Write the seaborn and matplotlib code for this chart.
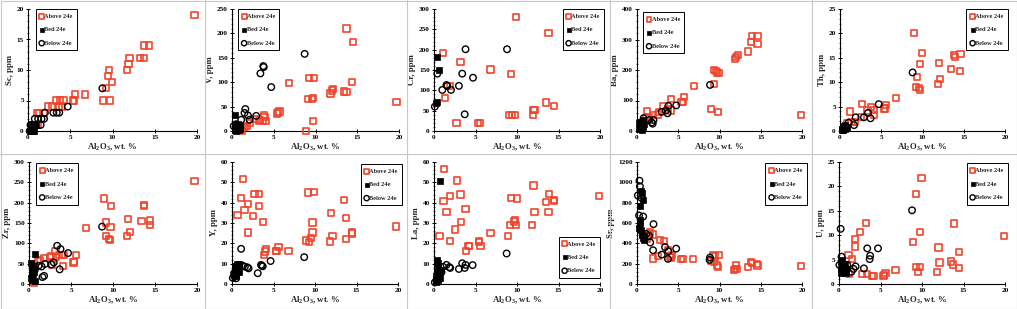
import numpy as np
import pandas as pd
import seaborn as sns
from matplotlib import pyplot as plt
from matplotlib.ticker import MultipleLocator, AutoMinorLocator
from matplotlib.lines import Line2D

#%% data: (Al2O3 wt.%, element ppm)
sc_above = [(0.6, 1), (1.1, 3), (1.3, 3), (1.9, 3), (1.2, 1), (2.4, 4), (2.8, 4), (3.3, 5), (3.7, 4), (3.8, 5),
            (4.0, 4), (4.2, 5), (5.3, 5), (5.4, 5), (5.6, 6), (6.7, 6), (8.9, 5), (9.2, 7), (9.5, 9), (9.6, 10),
            (9.7, 5), (9.9, 8), (11.7, 10), (11.9, 11), (12.0, 12), (13.3, 12), (13.7, 12), (13.7, 14), (14.3, 14),
            (19.7, 19)]
sc_bed = [(0.2, 0), (0.3, 0), (0.4, 0), (0.5, 0), (0.6, 0), (0.7, 0), (0.6, 1), (0.7, 1), (0.8, 1), (0.9, 1)]
sc_below = [(0.2, 0), (0.3, 1), (0.5, 1), (0.8, 2), (1.2, 2), (1.6, 2), (1.9, 2), (1.5, 1), (2.0, 3), (3.0, 3),
            (3.4, 3), (3.7, 3), (4.7, 4), (8.8, 7)]

v_above = [(13.7, 210), (14.5, 183), (14.4, 101), (19.7, 60), (6.8, 99), (9.2, 109), (9.8, 109), (9.1, 65),
           (9.6, 66), (9.7, 68), (9.7, 21), (8.9, 0), (11.8, 77), (12.0, 83), (12.1, 86), (13.4, 81), (13.7, 80),
           (5.4, 36), (5.5, 38), (5.7, 40), (3.8, 33), (3.9, 29), (4.1, 21), (3.7, 21), (3.2, 21), (3.4, 23),
           (2.7, 25), (2.2, 16), (1.8, 10), (1.5, 8), (1.2, 0), (1.3, 9)]
v_bed = [(0.4, 33), (0.3, 2), (0.4, 5), (0.5, 8), (0.6, 12), (0.7, 15), (0.8, 10), (0.9, 5), (0.5, 0), (0.8, 3),
         (1.0, 12)]
v_below = [(8.7, 158), (3.75, 133), (3.8, 131), (3.4, 118), (4.7, 90), (1.6, 45), (1.5, 37), (1.9, 32), (2.1, 23),
           (1.1, 23), (2.9, 31), (0.2, 10), (0.5, 14)]

cr_above = [(9.9, 281), (13.8, 241), (1.1, 191), (3.2, 170), (6.8, 151), (9.3, 141), (1.9, 111), (1.3, 81),
            (13.5, 70), (14.5, 61), (12.0, 51), (12.1, 51), (11.9, 40), (9.0, 40), (9.4, 40), (9.8, 40),
            (2.7, 20), (5.3, 20), (5.5, 20)]
cr_bed = [(0.4, 181), (0.6, 151), (0.25, 70), (0.35, 72)]
cr_below = [(8.8, 201), (3.8, 201), (0.4, 141), (3.4, 141), (4.7, 131), (3.0, 111), (1.6, 111), (1.5, 113),
            (2.05, 101), (1.0, 101), (3.7, 41), (0.1, 60)]

ba_above = [(13.9, 312), (14.6, 312), (13.8, 291), (14.6, 284), (13.5, 261), (12.2, 250), (12.0, 243),
            (11.9, 235), (9.3, 200), (9.7, 192), (9.9, 190), (9.6, 196), (9.3, 155), (9.0, 72), (9.8, 62),
            (19.9, 53), (6.9, 148), (5.7, 112), (5.4, 95), (5.55, 96), (4.15, 104), (4.15, 67), (3.2, 82),
            (3.8, 72), (2.7, 62), (1.2, 66), (1.9, 53), (1.5, 47), (2.5, 54), (1.1, 42)]
ba_bed = [(0.3, 5), (0.4, 12), (0.5, 20), (0.6, 28), (0.7, 35), (0.8, 22), (0.3, 25), (0.5, 8), (0.7, 14),
          (0.4, 30), (0.6, 2)]
ba_below = [(8.85, 151), (4.75, 84), (3.8, 82), (3.7, 58), (3.5, 67), (3.0, 63), (2.0, 36), (1.9, 24), (1.8, 28),
            (1.5, 36), (0.8, 42)]

th_above = [(8.95, 20.1), (9.9, 16), (14.6, 15.8), (13.8, 15.5), (13.9, 15.1), (9.7, 13.8), (12.0, 14),
            (13.5, 12.7), (14.5, 12.3), (9.3, 11.1), (12.1, 10.7), (11.85, 9.7), (9.2, 9.0), (9.55, 8.8),
            (9.7, 8.4), (6.8, 6.7), (5.6, 5.4), (5.3, 4.6), (5.5, 4.6), (2.7, 5.5), (1.2, 4.0), (4.1, 4.3),
            (3.75, 4.9), (3.3, 4.2), (2.5, 2.9), (4.1, 3.3), (1.85, 1.8), (1.4, 1.8), (0.9, 1.6)]
th_bed = [(0.2, 0.2), (0.3, 0.5), (0.4, 0.8), (0.5, 1.0), (0.6, 1.2), (0.7, 0.9), (0.8, 0.6), (0.4, 0.3),
          (0.6, 0.5)]
th_below = [(8.8, 12), (4.7, 5.5), (3.4, 3.7), (3.7, 2.6), (2.9, 2.8), (1.9, 2.8), (1.7, 1.2), (1.05, 1.7)]

zr_above = [(19.7, 254), (8.9, 210), (9.8, 192), (13.7, 195), (13.7, 192), (11.8, 160), (13.4, 155),
            (14.4, 156), (14.4, 146), (9.2, 151), (9.7, 141), (6.8, 137), (12.0, 127), (11.7, 119), (9.2, 119),
            (9.5, 110), (9.6, 108), (5.6, 72), (5.35, 55), (5.3, 53), (3.9, 71), (3.6, 72), (4.1, 71.5),
            (4.05, 44), (3.15, 82), (3.2, 66), (2.5, 66), (2.6, 69), (2.7, 48), (1.8, 64), (1.3, 59), (1.1, 57),
            (0.6, 2)]
zr_bed = [(0.7, 73), (0.2, 52), (0.3, 45), (0.4, 40), (0.5, 35), (0.6, 30), (0.3, 20), (0.4, 10), (0.7, 8),
          (0.5, 25), (0.2, 15), (0.6, 45)]
zr_below = [(8.7, 141), (3.35, 94), (3.75, 86), (4.65, 76), (2.95, 53), (3.65, 36), (2.65, 48), (1.9, 49),
            (1.5, 43), (1.6, 17), (1.8, 20), (1.15, 45), (0.7, 35)]

y_above = [(1.3, 51.5), (1.1, 42.2), (0.65, 33.9), (1.5, 36.3), (1.9, 39.3), (1.9, 25.3), (2.7, 44.2),
           (3.25, 44.2), (2.5, 33.4), (3.3, 38.5), (3.7, 30.4), (3.85, 14.1), (4.1, 17.3), (4.0, 16),
           (5.35, 16.1), (5.3, 16.4), (5.6, 18.2), (6.8, 16.3), (8.9, 21.4), (9.25, 20.7), (9.2, 45), (9.9, 45.4),
           (9.7, 30.2), (9.7, 25.3), (9.5, 22.7), (11.8, 20.9), (11.9, 34.9), (12.1, 23.5), (13.45, 41.3),
           (13.7, 32.4), (13.7, 22.2), (14.45, 25.3), (14.5, 24.8), (19.8, 28.3)]
y_bed = [(0.3, 5), (0.4, 7), (0.5, 9), (0.6, 10), (0.7, 8), (0.8, 6), (0.9, 10), (0.5, 4), (0.6, 6), (0.4, 9),
         (0.8, 9)]
y_below = [(1.1, 17.3), (8.7, 13.2), (4.65, 11.3), (3.5, 9.4), (3.6, 9.0), (3.7, 8.7), (3.1, 5.3), (2.0, 7.7),
           (1.85, 8.2), (1.55, 8.5), (1.3, 9), (0.3, 3.6), (0.1, 3.0), (0.5, 2.8), (0.25, 5.3)]

la_above = [(1.25, 56.7), (2.75, 50.9), (1.15, 40.7), (1.95, 43.3), (3.2, 44), (1.5, 35.4), (3.8, 36.7),
            (0.65, 23.8), (1.9, 21.2), (2.55, 26.8), (3.3, 30.4), (3.85, 16.4), (4.15, 18.8), (4.2, 18.5),
            (5.4, 21.2), (5.45, 20.7), (5.6, 18.7), (6.8, 25.1), (8.95, 23.5), (9.3, 42.3), (10.0, 42.1),
            (9.2, 28.9), (9.75, 31.6), (9.6, 30.7), (9.85, 29.1), (12.0, 48.4), (12.1, 35.5), (11.85, 28.9),
            (13.45, 40.5), (13.85, 44.3), (13.8, 35.4), (14.5, 41.5), (14.5, 40.7), (19.9, 43.3)]
la_bed = [(0.75, 50.7), (0.4, 11.6), (0.45, 10.2), (0.2, 2), (0.3, 4), (0.4, 6), (0.5, 8), (0.6, 5), (0.7, 3),
          (0.8, 7), (0.3, 1), (0.5, 2)]
la_below = [(8.75, 15), (3.4, 10.2), (4.65, 9.3), (3.8, 9.4), (3.7, 7.9), (3.0, 7.4), (1.95, 7.9), (1.85, 8.3),
            (1.5, 9.4), (1.1, 8.4), (0.9, 5.8), (0.3, 1.7), (0.1, 0.8)]

sr_above = [(19.9, 174), (9.25, 289), (9.95, 283), (9.5, 270), (9.0, 230), (9.35, 220), (9.65, 181),
            (9.8, 171), (12.0, 181), (11.85, 148), (12.15, 145), (11.75, 138), (13.5, 168), (13.8, 220),
            (13.9, 210), (14.5, 197), (14.6, 181), (6.8, 243), (5.6, 243), (5.35, 243), (4.15, 260), (4.25, 283),
            (4.0, 270), (3.8, 335), (3.25, 424), (2.75, 431), (2.5, 276), (1.9, 250), (1.95, 487), (1.55, 506),
            (1.45, 473), (1.15, 440), (0.75, 487), (1.3, 493)]
sr_bed = [(0.5, 917), (0.6, 898), (0.7, 828), (0.35, 769), (0.35, 625), (0.3, 549), (0.45, 532), (0.65, 483),
          (0.7, 450), (0.8, 434), (0.9, 467), (0.4, 600)]
sr_below = [(0.3, 1016), (0.35, 960), (0.1, 871), (0.55, 845), (0.25, 674), (0.75, 664), (2.0, 589), (1.95, 332),
            (1.6, 408), (1.45, 473), (1.1, 493), (3.4, 362), (3.8, 322), (4.75, 348), (3.75, 247), (3.0, 289),
            (8.85, 260), (8.8, 237)]

u_above = [(9.95, 21.8), (9.25, 18.5), (8.95, 8.6), (9.8, 10.6), (9.25, 3.5), (9.75, 3.5), (9.55, 2.5),
           (13.85, 12.4), (19.9, 9.9), (12.0, 7.5), (14.5, 6.5), (12.1, 4.4), (13.45, 4.6), (13.7, 4.0),
           (14.5, 3.3), (11.85, 2.5), (3.25, 12.5), (2.5, 10.7), (1.95, 9.2), (1.9, 7.7), (1.15, 5.9), (1.55, 5.2),
           (6.8, 2.9), (5.6, 2.2), (5.35, 1.6), (5.45, 1.8), (4.15, 1.6), (4.0, 1.6), (3.35, 2.0), (2.75, 2.1),
           (1.2, 2.0)]
u_bed = [(0.2, 3.0), (0.3, 4.5), (0.4, 5.0), (0.5, 3.5), (0.6, 2.5), (0.7, 4.0), (0.8, 2.2), (0.9, 3.0),
         (0.3, 2.2), (0.5, 4.2), (0.7, 2.8)]
u_below = [(0.2, 11.3), (8.8, 15.1), (3.4, 7.3), (4.7, 7.3), (3.75, 5.8), (3.7, 5.1), (2.0, 3.6), (1.75, 3.1),
           (1.5, 2.5), (3.0, 3.2), (1.0, 3.9), (0.3, 5.6), (0.05, 3.9)]

elements = ["Sc", "V", "Cr", "Ba", "Th", "Zr", "Y", "La", "Sr", "U"]
ymax = [20, 250, 300, 400, 25, 300, 60, 60, 1200, 25]
ystep = [5, 50, 50, 100, 5, 50, 10, 10, 200, 5]
groups = ["Above 24e", "Bed 24e", "Below 24e"]
panel_data = [
    (sc_above, sc_bed, sc_below), (v_above, v_bed, v_below), (cr_above, cr_bed, cr_below),
    (ba_above, ba_bed, ba_below), (th_above, th_bed, th_below), (zr_above, zr_bed, zr_below),
    (y_above, y_bed, y_below), (la_above, la_bed, la_below), (sr_above, sr_bed, sr_below),
    (u_above, u_bed, u_below),
]

#%% styling
RED = "#f0452d"
style_by_group = {
    "Above 24e": dict(marker="s", facecolors="none", edgecolor=RED, linewidth=1.2, s=20),
    "Bed 24e": dict(marker="s", facecolors="black", edgecolor="black", linewidth=0.5, s=20),
    "Below 24e": dict(marker="o", facecolors="none", edgecolor="black", linewidth=1.0, s=22),
}
# legend location and anchor (axes coords) for each panel
legend_pos = [
    ("upper left", (0.045, 1.0)), ("upper left", (0.036, 1.0)), ("upper right", (1.024, 1.0)),
    ("upper left", (0.036, 0.975)), ("upper right", (1.018, 1.0)), ("upper left", (0.042, 0.99)),
    ("upper right", (1.024, 0.984)), ("lower right", (1.0, 0.05)), ("upper right", (1.03, 0.99)),
    ("upper right", (1.018, 0.99)),
]
W, H = 1017, 309
ax_left = [[28, 232, 434, 637, 840], [29, 232, 434, 637, 839]]
ax_right = [[197, 399, 600, 802, 1005], [197, 398, 600, 802, 1005]]
ax_top = [9, 162]
ax_bottom = [131, 284]

sns.set_style("ticks")
plt.rcParams["font.family"] = ["Liberation Serif", "DejaVu Serif"]
plt.rcParams["font.weight"] = "bold"
plt.rcParams["axes.labelweight"] = "bold"

fig = plt.figure(figsize=(W / 100, H / 100), dpi=100)

# panel frames
frame_kw = dict(color="#c8c8c8", linewidth=0.8, transform=fig.transFigure)
for xb in [205, 407, 610, 812]:
    fig.add_artist(Line2D([xb / W, xb / W], [0, 1], **frame_kw))
fig.add_artist(Line2D([0, 1], [1 - 154 / H, 1 - 154 / H], **frame_kw))
fig.add_artist(Line2D([0.5 / W, 0.5 / W, 1 - 0.5 / W, 1 - 0.5 / W, 0.5 / W],
                      [0.5 / H, 1 - 0.5 / H, 1 - 0.5 / H, 0.5 / H, 0.5 / H], **frame_kw))

for i, elem in enumerate(elements):
    r, c = divmod(i, 5)
    l, rr = ax_left[r][c], ax_right[r][c]
    t, b = ax_top[r], ax_bottom[r]
    ax = fig.add_axes([l / W, 1 - b / H, (rr - l) / W, (b - t) / H])

    for grp, pts in zip(groups, panel_data[i]):
        df = pd.DataFrame(pts, columns=["al2o3", "ppm"])
        sns.scatterplot(data=df, x="al2o3", y="ppm", ax=ax, label=grp, clip_on=False, zorder=3,
                        **style_by_group[grp])

    ax.set_xlim(0, 20)
    ax.set_ylim(0, ymax[i])
    ax.xaxis.set_major_locator(MultipleLocator(5))
    ax.yaxis.set_major_locator(MultipleLocator(ystep[i]))
    ax.yaxis.set_minor_locator(AutoMinorLocator(5))
    ax.tick_params(axis="both", which="major", direction="inout", length=3, width=0.7,
                   labelsize=5.2, pad=1.5, colors="black")
    ax.tick_params(axis="y", which="minor", direction="inout", length=1.6, width=0.5)
    for lab in ax.get_xticklabels() + ax.get_yticklabels():
        lab.set_fontweight("bold")
    sns.despine(ax=ax)
    for sp in ["left", "bottom"]:
        ax.spines[sp].set_linewidth(0.8)
        ax.spines[sp].set_color("black")

    ax.set_xlabel("Al$_\\mathregular{2}$O$_\\mathregular{3}$, wt. %", fontsize=6.3, fontweight="bold", labelpad=1.5)
    ax.set_ylabel(f"{elem}, ppm", fontsize=6.3, fontweight="bold", labelpad=2)

    loc, anchor = legend_pos[i]
    leg = ax.legend(loc=loc, bbox_to_anchor=anchor, borderaxespad=0, fontsize=4.6, frameon=True,
                    fancybox=False, edgecolor="black", framealpha=1, handlelength=0.5, handletextpad=0.15,
                    borderpad=0.7, labelspacing=1.25, markerscale=0.8)
    leg.get_frame().set_linewidth(0.7)
    for txt in leg.get_texts():
        txt.set_fontweight("bold")

fig.savefig("out.png", dpi=100)
